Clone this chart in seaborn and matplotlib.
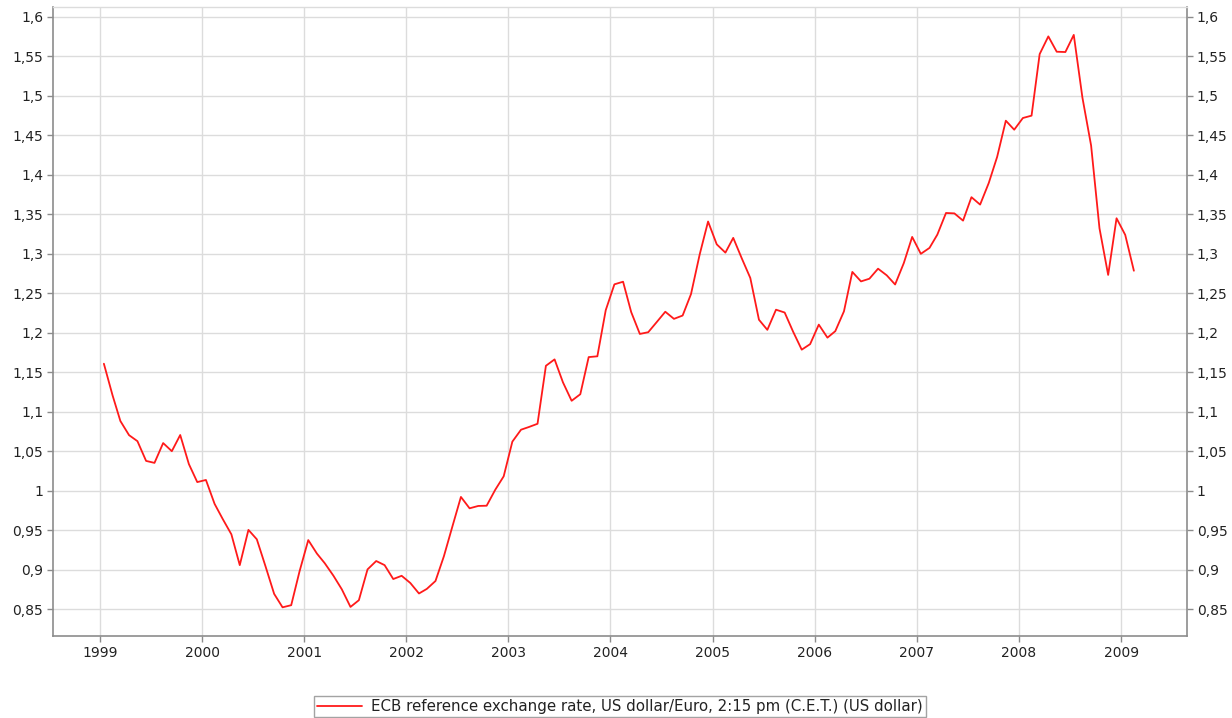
import numpy as np
import pandas as pd
import matplotlib
matplotlib.use("Agg")
import matplotlib.pyplot as plt
import matplotlib.dates as mdates
from matplotlib.ticker import FuncFormatter
import seaborn as sns

# Monthly averages, Jan 1999 .. Feb 2009 (USD per EUR)
rate_1999 = [1.1608, 1.1208, 1.0883, 1.0704, 1.0628, 1.0378, 1.0353, 1.0604, 1.0501, 1.0706, 1.0338, 1.0110]
rate_2000 = [1.0137, 0.9834, 0.9643, 0.9449, 0.9059, 0.9505, 0.9386, 0.9045, 0.8695, 0.8525, 0.8552, 0.8983]
rate_2001 = [0.9376, 0.9205, 0.9083, 0.8925, 0.8753, 0.8530, 0.8615, 0.9005, 0.9111, 0.9059, 0.8883, 0.8924]
rate_2002 = [0.8833, 0.8700, 0.8758, 0.8858, 0.9170, 0.9554, 0.9922, 0.9778, 0.9808, 0.9811, 1.0014, 1.0183]
rate_2003 = [1.0622, 1.0773, 1.0807, 1.0848, 1.1582, 1.1663, 1.1372, 1.1139, 1.1222, 1.1692, 1.1702, 1.2286]
rate_2004 = [1.2613, 1.2646, 1.2262, 1.1985, 1.2007, 1.2138, 1.2266, 1.2176, 1.2218, 1.2490, 1.2991, 1.3408]
rate_2005 = [1.3119, 1.3014, 1.3201, 1.2938, 1.2694, 1.2165, 1.2037, 1.2292, 1.2256, 1.2015, 1.1786, 1.1856]
rate_2006 = [1.2103, 1.1938, 1.2020, 1.2271, 1.2770, 1.2650, 1.2684, 1.2811, 1.2727, 1.2611, 1.2881, 1.3213]
rate_2007 = [1.2999, 1.3074, 1.3242, 1.3516, 1.3511, 1.3419, 1.3716, 1.3622, 1.3896, 1.4227, 1.4684, 1.4570]
rate_2008 = [1.4718, 1.4748, 1.5527, 1.5751, 1.5557, 1.5553, 1.5770, 1.4975, 1.4370, 1.3322, 1.2732, 1.3449]
rate_2009 = [1.3239, 1.2785]

rates = (rate_1999 + rate_2000 + rate_2001 + rate_2002 + rate_2003 + rate_2004 +
         rate_2005 + rate_2006 + rate_2007 + rate_2008 + rate_2009)
months = pd.date_range("1999-01-01", periods=len(rates), freq="MS") + pd.Timedelta(days=14)

series_label = "ECB reference exchange rate, US dollar/Euro, 2:15 pm (C.E.T.) (US dollar)"
y_ticks = [0.85, 0.9, 0.95, 1.0, 1.05, 1.1, 1.15, 1.2, 1.25, 1.3, 1.35, 1.4, 1.45, 1.5, 1.55, 1.6]

df = pd.DataFrame({"date": months, "rate": rates})

sns.set_style("white")
plt.rcParams["font.family"] = ["DejaVu Sans"]

fig = plt.figure(figsize=(12.32, 7.18), dpi=100)
ax = fig.add_axes([53 / 1232, 1 - 636 / 718, (1187 - 53) / 1232, (636 - 7) / 718])

sns.lineplot(data=df, x="date", y="rate", ax=ax, color="#ff1a1a", linewidth=1.3,
             label=series_label, legend=False)

ax.set_xlim(pd.Timestamp("1998-07-17"), pd.Timestamp("2009-08-24"))
ax.set_ylim(0.8162, 1.6123)
ax.set_yticks(y_ticks)
ax.yaxis.set_major_formatter(FuncFormatter(lambda v, p: ("%g" % round(v, 2)).replace(".", ",")))
ax.xaxis.set_major_locator(mdates.YearLocator())
ax.xaxis.set_major_formatter(mdates.DateFormatter("%Y"))

ax.set_xlabel("")
ax.set_ylabel("")
ax.grid(True, color="#dcdcdc", linewidth=1.0)
ax.set_axisbelow(True)

for side in ["left", "bottom", "right"]:
    ax.spines[side].set_color("#8c8c8c")
    ax.spines[side].set_linewidth(1.2)
ax.spines["top"].set_color("#dcdcdc")
ax.spines["top"].set_linewidth(1.0)

ax.tick_params(axis="both", which="major", length=4, width=1, color="#8c8c8c",
               labelsize=10, labelcolor="#222222")
ax.tick_params(axis="y", left=True, right=True, labelleft=True, labelright=True, pad=3)
ax.tick_params(axis="x", bottom=True, pad=3.5)

handles, labels = ax.get_legend_handles_labels()
leg = fig.legend(handles, labels, loc="center", bbox_to_anchor=(620 / 1232, 1 - 706.5 / 718),
                 frameon=True, fancybox=False, shadow=False, fontsize=10.8,
                 handlelength=3.0, handletextpad=0.6, borderpad=0.2, borderaxespad=0)
leg.get_frame().set_edgecolor("#8c8c8c")
leg.get_frame().set_linewidth(1.0)
for t in leg.get_texts():
    t.set_color("#222222")

fig.savefig("out.png", dpi=100)
